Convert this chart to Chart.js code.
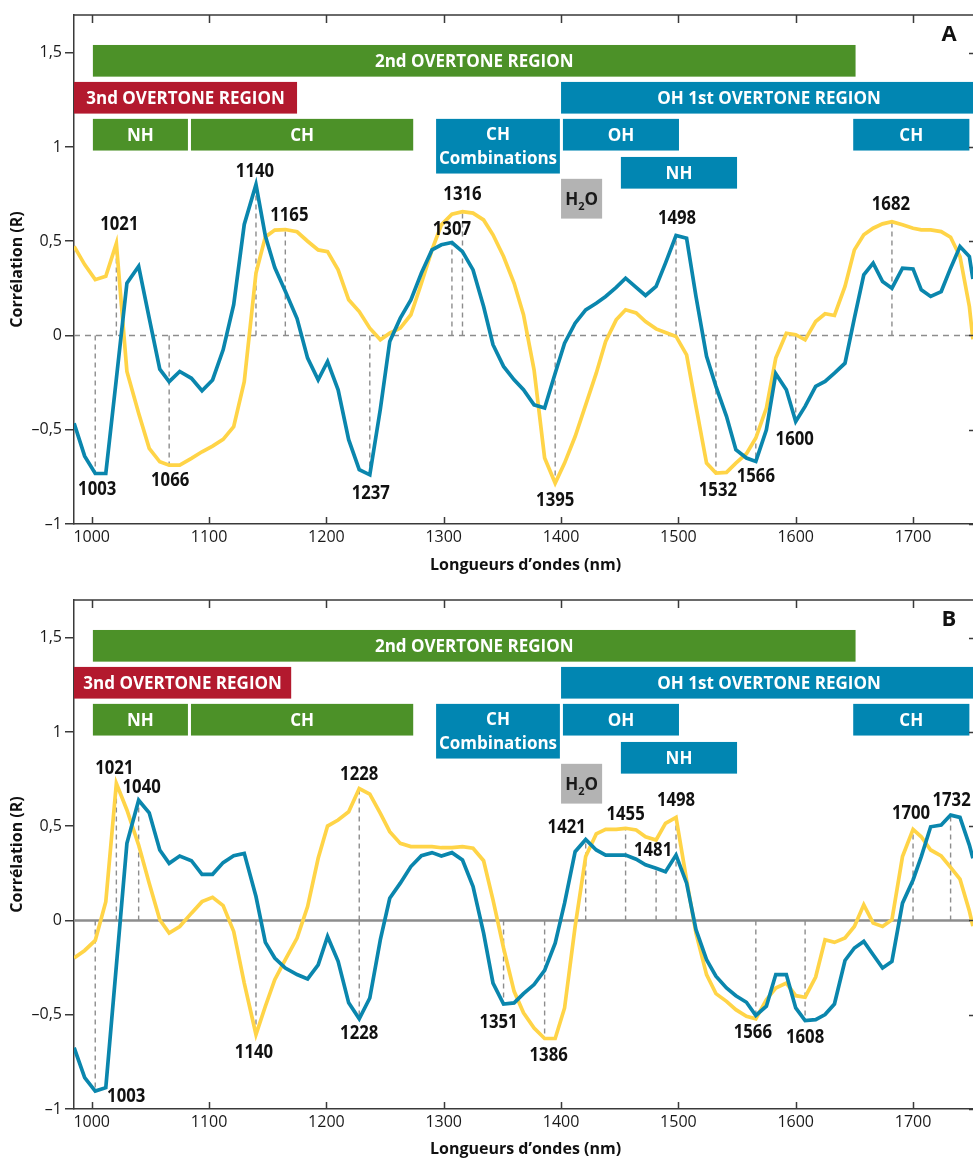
<!DOCTYPE html>
<html>
<head>
<meta charset="utf-8">
<script src="https://cdn.jsdelivr.net/npm/chart.js@4.4.1/dist/chart.umd.min.js"></script>
<style>
  html, body { margin: 0; padding: 0; background: #ffffff; }
  #wrap { position: relative; width: 973px; height: 1162px; overflow: hidden; }
  canvas { position: absolute; left: 0; display: block; }
  #chartA { top: 0; }
  #chartB { top: 585px; }
</style>
</head>
<body>
<div id="wrap">
  <canvas id="chartA" width="978" height="585"></canvas>
  <canvas id="chartB" width="978" height="577"></canvas>
</div>
<script>
// Wavelength grid (nm) shared by all correlation spectra
const wavelengths = [
  985, 994, 1003, 1012, 1021, 1030, 1040, 1049, 1058, 1066,
  1075, 1085, 1094, 1103, 1112, 1121, 1130, 1140, 1148, 1156,
  1165, 1175, 1184, 1193, 1201, 1210, 1219, 1228, 1237, 1246,
  1254, 1263, 1272, 1281, 1290, 1298, 1307, 1316, 1325, 1334,
  1342, 1351, 1360, 1368, 1377, 1386, 1395, 1403, 1412, 1421,
  1430, 1438, 1447, 1455, 1464, 1472, 1481, 1489, 1498, 1507,
  1515, 1524, 1532, 1541, 1549, 1558, 1566, 1575, 1583, 1592,
  1600, 1608, 1617, 1625, 1633, 1642, 1650, 1658, 1666, 1674,
  1682, 1691, 1700, 1707, 1715, 1724, 1732, 1740, 1748, 1751
];

// Panel A
const panelA_blue = [
  -0.466, -0.64, -0.732, -0.732, -0.23, 0.278, 0.367, 0.092, -0.179, -0.245,
  -0.191, -0.227, -0.293, -0.236, -0.076, 0.163, 0.589, 0.801, 0.527, 0.36,
  0.235, 0.09, -0.12, -0.235, -0.138, -0.288, -0.553, -0.712, -0.739, -0.39,
  -0.032, 0.092, 0.189, 0.331, 0.454, 0.481, 0.493, 0.445, 0.348, 0.154,
  -0.049, -0.164, -0.235, -0.288, -0.368, -0.385, -0.2, -0.041, 0.065, 0.136,
  0.171, 0.207, 0.255, 0.304, 0.255, 0.212, 0.26, 0.384, 0.53, 0.516,
  0.207, -0.111, -0.27, -0.429, -0.606, -0.65, -0.668, -0.5, -0.203, -0.288,
  -0.456, -0.376, -0.27, -0.244, -0.2, -0.147, 0.092, 0.322, 0.384, 0.286,
  0.251, 0.357, 0.353, 0.242, 0.207, 0.233, 0.357, 0.472, 0.419, 0.3
];
const panelA_yellow = [
  0.473, 0.376, 0.296, 0.314, 0.488, -0.191, -0.413, -0.599, -0.67, -0.688,
  -0.688, -0.652, -0.617, -0.587, -0.551, -0.484, -0.245, 0.331, 0.523, 0.559,
  0.562, 0.55, 0.5, 0.454, 0.445, 0.348, 0.189, 0.127, 0.039, -0.023,
  0.012, 0.039, 0.11, 0.277, 0.454, 0.587, 0.643, 0.657, 0.649, 0.613,
  0.534, 0.419, 0.277, 0.11, -0.182, -0.65, -0.783, -0.677, -0.536, -0.368,
  -0.2, -0.032, 0.083, 0.136, 0.12, 0.074, 0.035, 0.016, -0.005, -0.103,
  -0.376, -0.677, -0.73, -0.726, -0.677, -0.627, -0.544, -0.385, -0.12, 0.012,
  0.004, -0.023, 0.074, 0.115, 0.106, 0.26, 0.454, 0.534, 0.569, 0.592,
  0.604, 0.587, 0.569, 0.56, 0.56, 0.551, 0.521, 0.419, 0.154, -0.02
];

// Panel B
const panelB_blue = [
  -0.675, -0.834, -0.905, -0.887, -0.24, 0.409, 0.638, 0.571, 0.374, 0.303,
  0.342, 0.317, 0.245, 0.245, 0.307, 0.344, 0.356, 0.127, -0.116, -0.199,
  -0.252, -0.287, -0.31, -0.235, -0.085, -0.217, -0.437, -0.522, -0.411, -0.102,
  0.118, 0.198, 0.286, 0.344, 0.36, 0.342, 0.36, 0.321, 0.18, -0.067,
  -0.332, -0.443, -0.437, -0.388, -0.34, -0.265, -0.12, 0.092, 0.365, 0.43,
  0.374, 0.347, 0.347, 0.347, 0.325, 0.295, 0.277, 0.259, 0.347, 0.198,
  -0.049, -0.208, -0.296, -0.358, -0.399, -0.434, -0.504, -0.455, -0.287, -0.287,
  -0.464, -0.531, -0.526, -0.499, -0.443, -0.212, -0.146, -0.111, -0.182, -0.252,
  -0.217, 0.092, 0.215, 0.339, 0.497, 0.506, 0.559, 0.547, 0.4, 0.33
];
const panelB_yellow = [
  -0.199, -0.159, -0.106, 0.1, 0.727, 0.586, 0.4, 0.198, 0.004, -0.067,
  -0.032, 0.039, 0.1, 0.123, 0.079, -0.058, -0.332, -0.605, -0.455, -0.314,
  -0.208, -0.093, 0.074, 0.33, 0.501, 0.533, 0.577, 0.7, 0.67, 0.568,
  0.471, 0.409, 0.392, 0.392, 0.392, 0.386, 0.386, 0.392, 0.383, 0.317,
  0.109, -0.146, -0.376, -0.49, -0.57, -0.626, -0.626, -0.464, -0.032, 0.339,
  0.459, 0.483, 0.483, 0.489, 0.48, 0.444, 0.427, 0.515, 0.547, 0.215,
  -0.067, -0.287, -0.388, -0.429, -0.473, -0.508, -0.522, -0.42, -0.358, -0.332,
  -0.399, -0.407, -0.3, -0.102, -0.116, -0.093, -0.032, 0.083, -0.014, -0.032,
  0.004, 0.339, 0.483, 0.444, 0.374, 0.342, 0.282, 0.219, 0.05, -0.03
];

const xTicks = [1000, 1100, 1200, 1300, 1400, 1500, 1600, 1700];
const yTicks = [-1, -0.5, 0, 0.5, 1, 1.5];

// Marked wavelengths (the label is the wavelength itself)
const peaksA = [
  { nm: 1003, s: 'blue',   dx: 2,  dy: 15 },
  { nm: 1021, s: 'yellow', dx: 3,  dy: -20 },
  { nm: 1066, s: 'yellow', dx: 1,  dy: 14 },
  { nm: 1140, s: 'blue',   dx: -1, dy: -14 },
  { nm: 1165, s: 'yellow', dx: 4,  dy: -15 },
  { nm: 1237, s: 'blue',   dx: 1,  dy: 17 },
  { nm: 1307, s: 'blue',   dx: 0,  dy: -14 },
  { nm: 1316, s: 'yellow', dx: 0,  dy: -18 },
  { nm: 1395, s: 'yellow', dx: 0,  dy: 16 },
  { nm: 1498, s: 'blue',   dx: 1,  dy: -18 },
  { nm: 1532, s: 'yellow', dx: 2,  dy: 16 },
  { nm: 1566, s: 'blue',   dx: 0,  dy: 14 },
  { nm: 1600, s: 'blue',   dx: -1, dy: 17 },
  { nm: 1682, s: 'yellow', dx: -1, dy: -18 }
];
const peaksB = [
  { nm: 1003, s: 'blue',   dx: 31, dy: 4 },
  { nm: 1021, s: 'yellow', dx: -2, dy: -16 },
  { nm: 1040, s: 'blue',   dx: 3,  dy: -14 },
  { nm: 1140, s: 'yellow', dx: -2, dy: 17 },
  { nm: 1228, s: 'yellow', dx: 0,  dy: -15 },
  { nm: 1228, s: 'blue',   dx: 0,  dy: 13 },
  { nm: 1351, s: 'blue',   dx: -5, dy: 17 },
  { nm: 1386, s: 'yellow', dx: 4,  dy: 16 },
  { nm: 1421, s: 'blue',   dx: -19, dy: -13 },
  { nm: 1455, s: 'yellow', dx: 0,  dy: -15 },
  { nm: 1481, s: 'blue',   dx: -3, dy: -19 },
  { nm: 1498, s: 'yellow', dx: 0,  dy: -18 },
  { nm: 1566, s: 'blue',   dx: -3, dy: 16 },
  { nm: 1608, s: 'blue',   dx: 0,  dy: 16 },
  { nm: 1700, s: 'yellow', dx: -2, dy: -17 },
  { nm: 1732, s: 'blue',   dx: 1,  dy: -16 }
];

// Spectral assignment bands (wavelength span, vertical slot in R units)
const GREEN = '#4c9128', RED = '#b3192e', BAND_BLUE = '#0186b2', GREY = '#b3b3b3';
function makeBands(redEnd) {
  return [
    { from: 1001,   to: 1651,   hi: 1.541, lo: 1.373, fill: GREEN,     text: ['2nd OVERTONE REGION'] },
    { from: 980,    to: redEnd, hi: 1.345, lo: 1.177, fill: RED,       text: ['3nd OVERTONE REGION'] },
    { from: 1400,   to: 1760,   hi: 1.345, lo: 1.177, fill: BAND_BLUE, text: ['OH 1st OVERTONE REGION'] },
    { from: 1001,   to: 1082,   hi: 1.149, lo: 0.981, fill: GREEN,     text: ['NH'] },
    { from: 1084.6, to: 1274,   hi: 1.149, lo: 0.981, fill: GREEN,     text: ['CH'] },
    { from: 1293.5, to: 1399,   hi: 1.149, lo: 0.859, fill: BAND_BLUE, text: ['CH', 'Combinations'] },
    { from: 1401.6, to: 1500.5, hi: 1.149, lo: 0.981, fill: BAND_BLUE, text: ['OH'] },
    { from: 1451,   to: 1550,   hi: 0.947, lo: 0.779, fill: BAND_BLUE, text: ['NH'] },
    { from: 1400,   to: 1435,   hi: 0.831, lo: 0.620, fill: GREY,      chem: ['H', '2', 'O'] },
    { from: 1649,   to: 1748,   hi: 1.149, lo: 0.981, fill: BAND_BLUE, text: ['CH'] }
  ];
}

const LINE_YELLOW = '#ffd447';
const LINE_BLUE = '#0a86ad';
const AXIS = '#3a3a3a';
const FONT = "'Open Sans', 'Noto Sans', sans-serif";

// Centered text with optional horizontal compression (narrow numeric labels)
function drawCentered(ctx, txt, cx, cy, size, weight, color, squeeze) {
  const k = squeeze || 1;
  ctx.save();
  ctx.font = weight + ' ' + size + 'px ' + FONT;
  ctx.fillStyle = color;
  ctx.textAlign = 'center';
  ctx.textBaseline = 'alphabetic';
  ctx.translate(cx, cy + size * 0.357);
  ctx.scale(k, 1);
  ctx.fillText(txt, 0, 0);
  ctx.restore();
}

const panelDecor = {
  id: 'panelDecor',
  beforeDatasetsDraw(chart, args, o) {
    const { ctx, chartArea: a, scales: { x, y } } = chart;
    ctx.save();
    // bands
    o.bands.forEach(b => {
      const x1 = x.getPixelForValue(Math.max(b.from, x.min));
      const x2 = x.getPixelForValue(Math.min(b.to, x.max));
      const y1 = y.getPixelForValue(b.hi);
      const y2 = y.getPixelForValue(b.lo);
      ctx.fillStyle = b.fill;
      ctx.fillRect(x1, y1, x2 - x1, y2 - y1);
      const cx = (x1 + x2) / 2, cy = (y1 + y2) / 2;
      if (b.text) {
        const n = b.text.length;
        b.text.forEach((t, i) => {
          drawCentered(ctx, t, cx, cy + (i - (n - 1) / 2) * 24, 17, 'bold', '#ffffff');
        });
      } else if (b.chem) {
        ctx.textBaseline = 'alphabetic';
        ctx.fillStyle = '#1a1a1a';
        ctx.font = 'bold 17px ' + FONT;
        const wH = ctx.measureText(b.chem[0]).width;
        const wO = ctx.measureText(b.chem[2]).width;
        ctx.font = 'bold 11px ' + FONT;
        const w2 = ctx.measureText(b.chem[1]).width;
        let sx = cx - (wH + w2 + wO) / 2;
        const base = cy + 17 * 0.357;
        ctx.textAlign = 'left';
        ctx.font = 'bold 17px ' + FONT;
        ctx.fillText(b.chem[0], sx, base);
        ctx.font = 'bold 11px ' + FONT;
        ctx.fillText(b.chem[1], sx + wH, base + 5);
        ctx.font = 'bold 17px ' + FONT;
        ctx.fillText(b.chem[2], sx + wH + w2, base);
      }
    });
    // zero line
    const y0 = y.getPixelForValue(0);
    ctx.strokeStyle = '#8d8d8d';
    if (o.zeroDashed) { ctx.setLineDash([6, 5]); ctx.lineWidth = 1.4; }
    else { ctx.setLineDash([]); ctx.lineWidth = 2.4; }
    ctx.beginPath(); ctx.moveTo(a.left, y0); ctx.lineTo(a.right, y0); ctx.stroke();
    // dashed drop lines at marked wavelengths
    ctx.setLineDash([5, 4]);
    ctx.lineWidth = 1.4;
    ctx.strokeStyle = '#8d8d8d';
    o.peaks.forEach(p => {
      const v = o.series[p.s][wavelengths.indexOf(p.nm)];
      const px = x.getPixelForValue(p.nm);
      ctx.beginPath(); ctx.moveTo(px, y0); ctx.lineTo(px, y.getPixelForValue(v)); ctx.stroke();
    });
    ctx.restore();
  },
  afterDatasetsDraw(chart, args, o) {
    const { ctx, scales: { x, y } } = chart;
    o.peaks.forEach(p => {
      const v = o.series[p.s][wavelengths.indexOf(p.nm)];
      drawCentered(ctx, String(p.nm), x.getPixelForValue(p.nm) + p.dx, y.getPixelForValue(v) + p.dy, 19, 'bold', '#111111', 0.88);
    });
  },
  afterDraw(chart, args, o) {
    const { ctx, chartArea: a, scales: { x, y } } = chart;
    ctx.save();
    ctx.strokeStyle = AXIS;
    ctx.lineWidth = 1.5;
    ctx.beginPath();
    ctx.moveTo(a.left, a.top); ctx.lineTo(a.right, a.top);
    ctx.moveTo(a.right, a.top); ctx.lineTo(a.right, a.bottom);
    // inward ticks on the bottom and top edges
    xTicks.forEach(v => {
      const px = Math.round(x.getPixelForValue(v)) + 0.5;
      ctx.moveTo(px, a.bottom); ctx.lineTo(px, a.bottom - 7);
      ctx.moveTo(px, a.top); ctx.lineTo(px, a.top + 8);
    });
    // inward ticks on the right edge
    yTicks.forEach(v => {
      const py = Math.round(y.getPixelForValue(v)) + 0.5;
      ctx.moveTo(a.right, py); ctx.lineTo(a.right - 8, py);
    });
    ctx.stroke();
    ctx.restore();
    drawCentered(ctx, o.letter, 949, a.top + 18, 22, 'bold', '#111111');
  }
};

function fmtR(v) {
  const s = String(Math.abs(v)).replace('.', ',');
  return v < 0 ? '\u2013' + s : s;
}

function makeChart(id, blue, yellow, peaks, bands, letter, zeroDashed, canvasH, titlePad) {
  const xAxisH = canvasH - 524;
  return new Chart(document.getElementById(id), {
    type: 'line',
    data: {
      datasets: [
        { data: wavelengths.map((w, i) => ({ x: w, y: blue[i] })), borderColor: LINE_BLUE },
        { data: wavelengths.map((w, i) => ({ x: w, y: yellow[i] })), borderColor: LINE_YELLOW }
      ].map(d => Object.assign(d, { borderWidth: 3.7, pointRadius: 0, tension: 0, fill: false, borderJoinStyle: 'miter' }))
    },
    options: {
      responsive: false,
      animation: false,
      devicePixelRatio: 1,
      layout: { padding: { top: 15, left: 0, right: 1, bottom: 0 } },
      plugins: {
        legend: { display: false },
        tooltip: { enabled: false },
        panelDecor: { bands, peaks, series: { blue, yellow }, letter, zeroDashed }
      },
      scales: {
        x: {
          type: 'linear',
          min: 984.9,
          max: 1754.5,
          afterBuildTicks: s => { s.ticks = xTicks.map(v => ({ value: v })); },
          afterFit: s => { s.height = xAxisH; },
          grid: { display: false },
          border: { display: true, color: AXIS, width: 1.5 },
          ticks: { color: '#1a1a1a', font: { family: FONT, size: 16 }, padding: -4, maxRotation: 0, callback: v => String(v) },
          title: { display: true, text: 'Longueurs d\u2019ondes (nm)', color: '#111111', font: { family: FONT, size: 16, weight: 'bold' }, padding: { top: 0, bottom: titlePad } }
        },
        y: {
          type: 'linear',
          min: -1,
          max: 1.7,
          afterBuildTicks: s => { s.ticks = yTicks.map(v => ({ value: v })); },
          afterFit: s => { s.width = 74; },
          grid: { display: true, drawOnChartArea: false, drawTicks: true, tickLength: 9, color: AXIS, lineWidth: 1.5 },
          border: { display: true, color: AXIS, width: 1.5 },
          ticks: { color: '#1a1a1a', font: { family: FONT, size: 16 }, padding: 3, callback: v => fmtR(v) },
          title: { display: true, text: 'Corrélation (R)', color: '#111111', font: { family: FONT, size: 16, weight: 'bold' }, padding: { top: 8, bottom: 0 } }
        }
      }
    },
    plugins: [panelDecor]
  });
}

makeChart('chartA', panelA_blue, panelA_yellow, peaksA, makeBands(1175), 'A', true, 585, 10);
makeChart('chartB', panelB_blue, panelB_yellow, peaksB, makeBands(1170), 'B', false, 577, 3);
</script>
</body>
</html>
